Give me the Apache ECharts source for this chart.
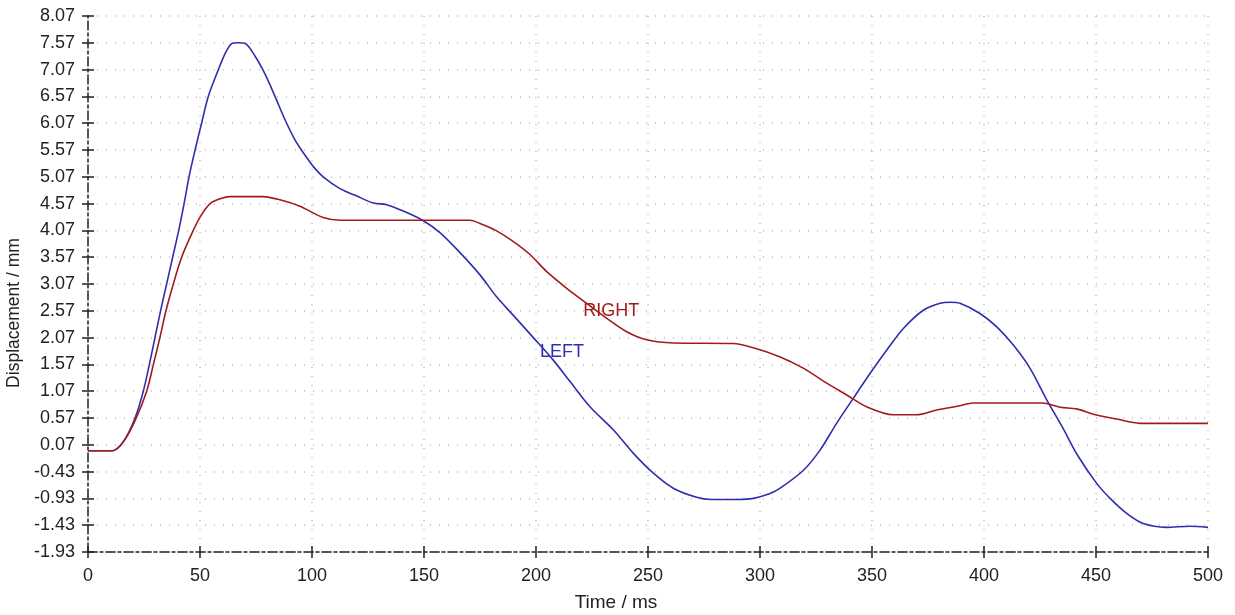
<!DOCTYPE html>
<html>
<head>
<meta charset="utf-8">
<script src="https://cdn.jsdelivr.net/npm/echarts@6/dist/echarts.min.js"></script>
<style>html,body{margin:0;padding:0;background:#fff}#c{width:1235px;height:615px}</style>
</head>
<body>
<div id="c"></div>
<script>
var leftX = [0, 11, 16, 21, 24.7, 27.4, 29.9, 32.4, 35.1, 37.8, 40.5, 42.9, 45.1, 47.8, 50.7, 53.7, 58.2, 61, 64, 67, 70, 74.6, 79, 83.5, 88, 92.4, 96.1, 100.6, 105, 112.5, 120, 127.4, 133.3, 140.8, 149.7, 157.1, 164.6, 175, 182.4, 190, 198.8, 207.7, 215.2, 224.1, 234.5, 243.5, 252.4, 261.3, 271.7, 278, 290, 297, 304.5, 309, 319.3, 326.8, 334.2, 341.7, 349.1, 356.6, 364, 372.9, 380.4, 385, 389.3, 398.2, 405.7, 413.1, 420.5, 428, 435, 441.7, 450.3, 456.3, 463.7, 471.1, 481.5, 491.9, 500];
var leftY = [-0.04, -0.04, 0.14, 0.57, 1.07, 1.57, 2.07, 2.57, 3.07, 3.57, 4.07, 4.57, 5.07, 5.57, 6.07, 6.57, 7.07, 7.35, 7.55, 7.57, 7.56, 7.32, 6.99, 6.57, 6.13, 5.76, 5.52, 5.26, 5.07, 4.85, 4.71, 4.58, 4.55, 4.43, 4.25, 4.03, 3.72, 3.24, 2.83, 2.48, 2.07, 1.65, 1.25, 0.78, 0.35, -0.09, -0.46, -0.74, -0.91, -0.95, -0.95, -0.93, -0.84, -0.74, -0.41, -0.03, 0.47, 0.94, 1.40, 1.84, 2.24, 2.58, 2.71, 2.73, 2.71, 2.52, 2.27, 1.93, 1.50, 0.91, 0.40, -0.12, -0.65, -0.93, -1.21, -1.40, -1.47, -1.45, -1.47];
var rightX = [0, 11, 16, 21, 26.2, 29.2, 32.1, 34.8, 38.1, 41.8, 47, 50.5, 54.5, 59, 63.4, 78, 85.7, 94.6, 105, 112.5, 170.5, 175, 182, 189.9, 197.3, 204.8, 213.7, 222.6, 231.6, 240.5, 249.4, 261.3, 288, 297, 309, 319.3, 329.8, 338.7, 347.6, 359.5, 369.9, 378.9, 389.3, 395, 426, 434, 441.4, 448.8, 459.2, 469.6, 500];
var rightY = [-0.04, -0.04, 0.14, 0.52, 1.07, 1.57, 2.07, 2.57, 3.07, 3.57, 4.07, 4.35, 4.57, 4.66, 4.70, 4.70, 4.64, 4.52, 4.31, 4.26, 4.26, 4.20, 4.07, 3.86, 3.62, 3.30, 2.99, 2.71, 2.43, 2.18, 2.03, 1.97, 1.96, 1.88, 1.71, 1.50, 1.22, 1.00, 0.78, 0.63, 0.63, 0.72, 0.80, 0.85, 0.85, 0.77, 0.74, 0.64, 0.55, 0.47, 0.47];
var labelNames = ['LEFT', 'RIGHT'];
var labelAt = [[201.8, 1.80], [221.1, 2.57]];
var xTicks = {min: 0, max: 500, interval: 50};
var yTicks = {min: -1.93, max: 8.07, interval: 0.5};

function zip(a, b) { return a.map(function (v, i) { return [v, b[i]]; }); }
var FONT = 'Liberation Sans';
var blue = '#2f2fae', red = '#a01c1c';
var axisLineStyle = {color: '#222', width: 1.5, type: [9, 3, 3, 3]};
var tickStyle = {color: '#222', width: 1.5};
var gridStyle = {color: '#bbb', type: [1, 8], width: 1.5};
var chart = echarts.init(document.getElementById('c'));
function mark(i, color) {
  return {
    symbol: 'circle', symbolSize: 0, silent: true,
    data: [{coord: labelAt[i], name: labelNames[i]}],
    label: {show: true, position: 'right', distance: 0, offset: [0, 0], color: color,
      fontFamily: FONT, fontSize: 18, formatter: function () { return labelNames[i]; }}
  };
}
chart.setOption({
  animation: false,
  grid: {left: 88, right: 27, top: 16, bottom: 63, containLabel: false, outerBoundsMode: 'none'},
  xAxis: [{
    type: 'value', min: xTicks.min, max: xTicks.max, interval: xTicks.interval,
    name: 'Time / ms', nameLocation: 'middle', nameGap: 41,
    nameTextStyle: {fontFamily: FONT, fontSize: 19, color: '#222', padding: [0, 64, 0, 0]},
    axisLine: {show: true, onZero: false, lineStyle: axisLineStyle},
    axisTick: {show: true, length: 6, lineStyle: tickStyle},
    axisLabel: {fontFamily: FONT, fontSize: 18, color: '#222', margin: 15},
    splitLine: {show: true, lineStyle: gridStyle}
  }, {
    type: 'value', min: xTicks.min, max: xTicks.max, interval: xTicks.interval, position: 'bottom',
    axisLine: {show: false, onZero: false}, axisTick: {show: true, inside: true, length: 6, lineStyle: tickStyle},
    axisLabel: {show: false}, splitLine: {show: false}
  }],
  yAxis: [{
    type: 'value', min: yTicks.min, max: yTicks.max, interval: yTicks.interval,
    name: 'Displacement / mm', nameLocation: 'middle', nameGap: 62,
    nameTextStyle: {fontFamily: FONT, fontSize: 17.5, color: '#222', padding: [0, 58, 0, 0]},
    axisLine: {show: true, onZero: false, lineStyle: axisLineStyle},
    axisTick: {show: true, length: 6, lineStyle: tickStyle},
    axisLabel: {fontFamily: FONT, fontSize: 18, color: '#222', margin: 13,
      formatter: function (v) { return v.toFixed(2); }},
    splitLine: {show: true, lineStyle: gridStyle}
  }, {
    type: 'value', min: yTicks.min, max: yTicks.max, interval: yTicks.interval, position: 'left',
    axisLine: {show: false, onZero: false}, axisTick: {show: true, inside: true, length: 6, lineStyle: tickStyle},
    axisLabel: {show: false}, splitLine: {show: false}
  }],
  series: [{
    name: labelNames[0], type: 'line', data: zip(leftX, leftY), smooth: 0.3, showSymbol: false,
    lineStyle: {color: blue, width: 1.6}, itemStyle: {color: blue},
    markPoint: mark(0, blue)
  }, {
    name: labelNames[1], type: 'line', data: zip(rightX, rightY), smooth: 0.3, showSymbol: false,
    lineStyle: {color: red, width: 1.6}, itemStyle: {color: red},
    markPoint: mark(1, red)
  }]
});
</script>
</body>
</html>
